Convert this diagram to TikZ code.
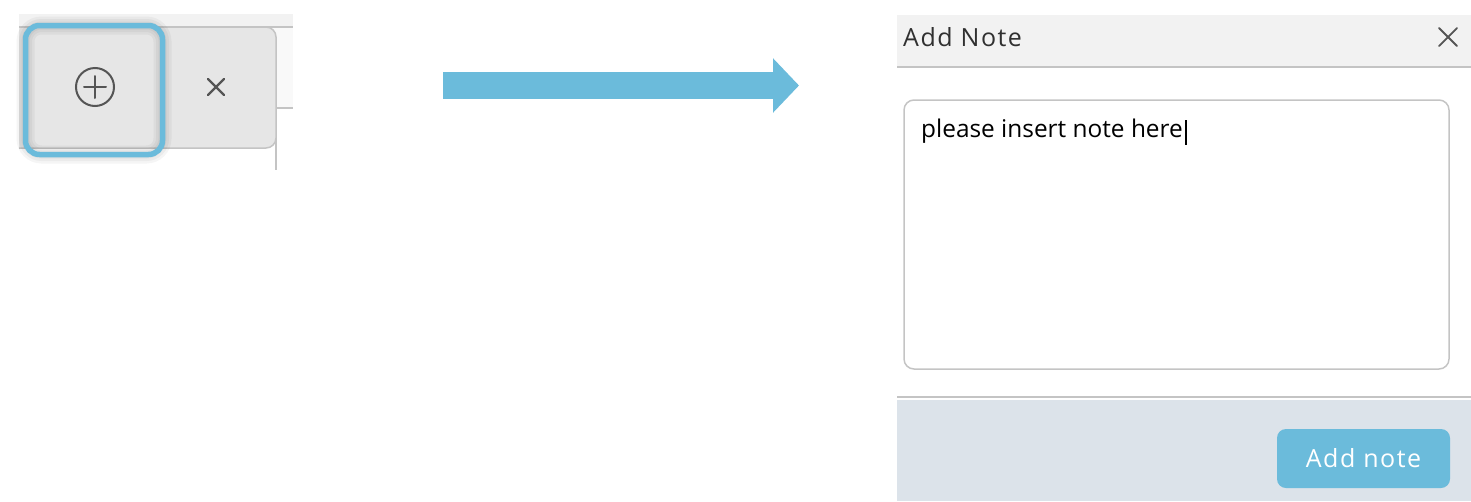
\documentclass[tikz,border=0pt]{standalone}
\usepackage{fontspec}
\setmainfont{Open Sans}
\newfontfamily\uifont[LetterSpace=6]{Open Sans}
\usepackage{xcolor}
\usetikzlibrary{arrows.meta}
\usetikzlibrary{positioning}
\definecolor{hlblue}{HTML}{6BBBDB}
\definecolor{tabgray}{HTML}{E6E6E6}
\definecolor{bargray}{HTML}{F2F2F2}
\definecolor{linegray}{HTML}{C4C4C4}
\definecolor{panelblue}{HTML}{DCE3EA}
\definecolor{icongray}{HTML}{555555}
\definecolor{titletext}{HTML}{303030}

\tikzset{
  sep/.style={draw=linegray, line width=2},
  crossmark/.style={icongray, line width=2.2, line cap=round},
  uitext/.style={inner sep=0, font=\uifont\fontsize{25}{30}\selectfont},
}

\begin{document}
\begin{tikzpicture}[x=1pt,y=-1pt]
  \useasboundingbox (0,0) rectangle (1471,501);
  % tab strip on the left
  \fill[bargray!50] (19,14) rectangle (293,108);
  \fill[bargray] (19,14) rectangle (293,27);
  \draw[sep] (19,27) -- (293,27);
  \draw[linegray, line width=1.5] (276,108) -- (293,108);
  \draw[linegray, line width=1.5] (276,100) -- (276,170);
  \path[fill=tabgray, draw=linegray, line width=1.5, rounded corners=10] (19,27) -- (276,27) -- (276,148) -- (19,148);
  \foreach \w in {18,13,8} \draw[black, opacity=0.04, line width=\w, rounded corners=16] (25.5,25.5) rectangle (162.5,154.5);
  \node (plusbtn) [draw=hlblue, line width=5.5, rounded corners=14, minimum width=137, minimum height=129] at (94,90) {};
  \node (plusicon) [circle, draw=icongray, line width=2, minimum size=38] at (95,87) {};
  \draw[crossmark, line width=2] ([xshift=-11pt]plusicon.center) -- ([xshift=11pt]plusicon.center);
  \draw[crossmark, line width=2] ([yshift=-11pt]plusicon.center) -- ([yshift=11pt]plusicon.center);
  \coordinate (tabclose) at (216,87);
  \draw[crossmark] ([shift={(-8,-8)}]tabclose) -- ([shift={(8,8)}]tabclose);
  \draw[crossmark] ([shift={(-8,8)}]tabclose) -- ([shift={(8,-8)}]tabclose);

  % block arrow
  \coordinate (arrowtail) at (443,85.5);
  \coordinate (arrowtip) at (799,85.5);
  \draw[hlblue, line width=27, -{Triangle[length=26pt,width=53pt]}] (arrowtail) -- (arrowtip);

  % dialog
  \fill[bargray] (897,15) rectangle (1471,67);
  \draw[sep] (897,67) -- (1471,67);
  \node (title) [uitext, anchor=base west, text=titletext] at (903,46) {Add Note};
  \coordinate (dlgclose) at (1448,37);
  \draw[crossmark, line width=1.8] ([shift={(-9,-9)}]dlgclose) -- ([shift={(9,9)}]dlgclose);
  \draw[crossmark, line width=1.8] ([shift={(-9,9)}]dlgclose) -- ([shift={(9,-9)}]dlgclose);
  \node (notebox) [draw=linegray, line width=1.5, rounded corners=10, minimum width=545, minimum height=269] at (1176.5,234.5) {};
  \node (notetext) [anchor=base west, inner sep=0, text=black, font=\fontsize{24.4}{29}\selectfont] at (921,137) {please insert note here};
  \draw[line width=1.5] ([xshift=3pt]notetext.base east) ++(0,-17) -- ++(0,25);
  \draw[sep] (897,397) -- (1471,397);
  \fill[panelblue] (897,400) rectangle (1471,501);
  \node (addbtn) [fill=hlblue, rounded corners=9, minimum width=173, minimum height=59] at (1363.5,458.5) {};
  \node (addlabel) [uitext, text=white] at (addbtn.center) {Add note};
\end{tikzpicture}
\end{document}
